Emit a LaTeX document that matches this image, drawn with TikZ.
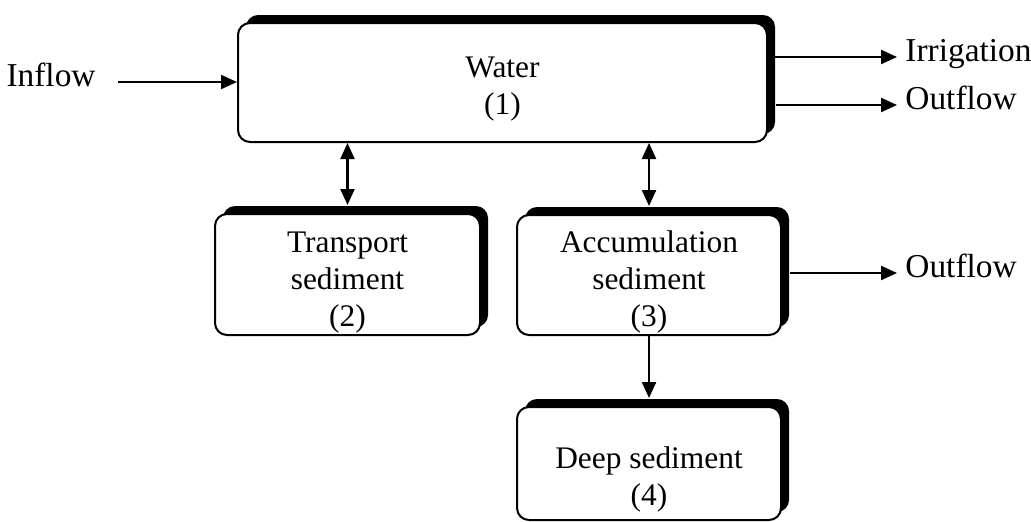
\documentclass[tikz,border=0pt]{standalone}
\usepackage{fontspec}
\setmainfont{Liberation Serif}
\usetikzlibrary{
    arrows.meta,
    positioning,
    shadows
}

\tikzset{
    compartment/.style={
        draw, line width=1pt, fill=white,
        rounded corners=6pt,
        align=center, inner sep=0pt,
        font=\fontsize{15.7}{18.5}\selectfont,
        drop shadow={shadow xshift=4pt, shadow yshift=4pt,
            fill=black, opacity=1}
    },
    flowlabel/.style={
        inner ysep=0pt, inner xsep=4pt,
        text height=0.68em, text depth=0.2em,
        font=\fontsize{16.7}{18.5}\selectfont
    },
    flow/.style={
        line width=1.1pt,
        -{Triangle[length=8pt,width=7pt]}
    },
    exchange/.style={
        line width=1.1pt,
        {Triangle[length=8pt,width=7pt]}-{Triangle[length=8pt,width=7pt]}
    }
}

\begin{document}
\begin{tikzpicture}[
    x=0.5pt, y=-0.5pt
]

\useasboundingbox (0,0) rectangle (1031,521);

% Compartments
\node[compartment, minimum width=264.5pt, minimum height=59.5pt,
      text height=33pt, text depth=1.5pt]
    (water) at (502.5,82.5)
    {Water\\(1)};

\node[compartment, minimum width=132.5pt, minimum height=60.5pt,
      text height=55pt, text depth=3.5pt]
    (transport) at (347.5,274.5)
    {Transport\\sediment\\(2)};

\node[compartment, minimum width=132pt, minimum height=60pt,
      text height=55pt, text depth=4pt]
    (accum) at (649,275)
    {Accumulation\\sediment\\(3)};

\node[compartment, minimum width=132pt, minimum height=56.5pt,
      text height=47pt, text depth=5.5pt]
    (deep) at (649,463.5)
    {Deep sediment\\(4)};

% Flow labels
\node[flowlabel, anchor=east, inner xsep=11pt]
    (inflow) at (118,82) {Inflow};

\node[flowlabel, anchor=west]
    (irrigation) at (897,57) {Irrigation};

\node[flowlabel, anchor=west]
    (outwater) at (897,105) {Outflow};

\node[flowlabel, anchor=west]
    (outaccum) at (897,273) {Outflow};

% Inflow and outflows
\draw[flow]
    (inflow.east) -- (water.west |- inflow.east);

\draw[flow]
    (water.east |- irrigation.west) -- (irrigation.west);

\draw[flow]
    ([xshift=4pt]water.east |- outwater.west) -- (outwater.west);

\draw[flow]
    ([xshift=4pt]accum.east |- outaccum.west) -- (outaccum.west);

% Exchange between water and sediments
\draw[exchange]
    (water.south -| transport.north) -- ([yshift=4pt]transport.north);

\draw[exchange]
    (water.south -| accum.north) -- ([yshift=4pt]accum.north);

% Burial
\draw[flow]
    (accum.south) -- ([yshift=4pt]deep.north);

\end{tikzpicture}
\end{document}
